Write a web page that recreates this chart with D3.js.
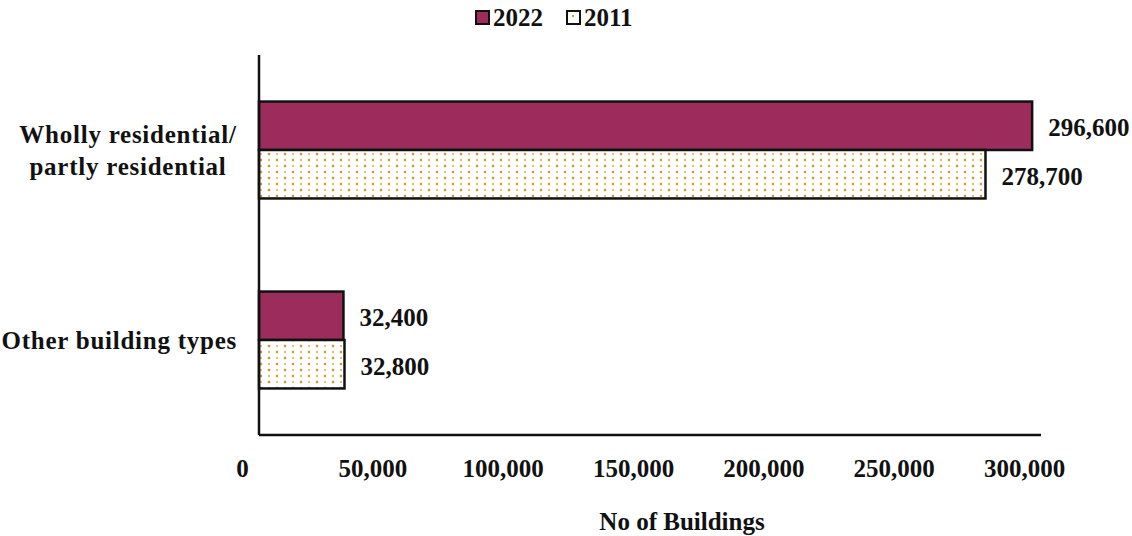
<!DOCTYPE html>
<html>
<head>
<meta charset="utf-8">
<script src="https://cdn.jsdelivr.net/npm/d3@7"></script>
<style>
html,body{margin:0;padding:0;background:#fff;}
svg{display:block;}
text{font-family:"Liberation Serif","Times New Roman",serif;font-weight:bold;fill:#111;}
</style>
</head>
<body>
<svg id="chart" width="1132" height="536"></svg>
<script>
const categories = [["Wholly residential/", "partly residential"], ["Other building types"]];
const categoryKeys = ["Wholly residential/ partly residential", "Other building types"];
const seriesNames = ["2022", "2011"];
const values2022 = [296600, 32400];
const values2011 = [278700, 32800];
const tickValues = [0, 50000, 100000, 150000, 200000, 250000, 300000];
const axisTitle = "No of Buildings";

const svg = d3.select("#chart");
const colors = {"2022": "#9C2C5B"};
const fontSize = 25;

// pattern for 2011
const defs = svg.append("defs");
const pat = defs.append("pattern").attr("id","dots").attr("patternUnits","userSpaceOnUse")
  .attr("width",16).attr("height",12).attr("x",3).attr("y",2);
pat.append("rect").attr("width",16).attr("height",12).attr("fill","#fff");
[[2,2,1.2],[10,2,0.8],[2,8,0.8],[10,8,1.2]].forEach(d=>{
  pat.append("rect").attr("x",d[0]-d[2]).attr("y",d[1]-d[2]).attr("width",d[2]*2).attr("height",d[2]*2).attr("fill","#C9A12A");
});

const x = d3.scaleLinear().domain([0, 300000]).range([259, 1041]);
const y = d3.scaleBand().domain(categoryKeys).range([55, 435]).paddingInner(0.49).paddingOuter(0.245);
const ys = d3.scaleBand().domain(seriesNames).range([0, y.bandwidth()]);

const data = [];
categoryKeys.forEach((c,i)=>{
  data.push({cat:c, s:"2022", v:values2022[i]});
  data.push({cat:c, s:"2011", v:values2011[i]});
});

const g = svg.append("g");
g.selectAll("rect.bar").data(data).join("rect").attr("class","bar")
  .attr("x", x(0))
  .attr("y", d=>y(d.cat)+ys(d.s))
  .attr("width", d=>x(d.v)-x(0))
  .attr("height", ys.bandwidth())
  .attr("fill", d=>d.s==="2022"?colors["2022"]:"url(#dots)")
  .attr("stroke","#111").attr("stroke-width",2.5);

g.selectAll("text.val").data(data).join("text").attr("class","val")
  .attr("x", d=>x(d.v)+16)
  .attr("y", d=>y(d.cat)+ys(d.s)+ys.bandwidth()/2+2)
  .attr("dominant-baseline","central")
  .style("font-size", fontSize+"px")
  .text(d=>d3.format(",")(d.v));

// axes lines
svg.append("line").attr("x1",x(0)).attr("x2",x(0)).attr("y1",55).attr("y2",435).attr("stroke","#111").attr("stroke-width",2.5);
svg.append("line").attr("x1",x(0)).attr("x2",x(300000)).attr("y1",435).attr("y2",435).attr("stroke","#111").attr("stroke-width",2.5);

// x tick labels
const xa = svg.append("g").attr("transform","translate(-17,468)")
  .call(d3.axisBottom(x).tickValues(tickValues).tickSize(0).tickPadding(0).tickFormat(d3.format(",")));
xa.select(".domain").remove();
xa.selectAll("text").attr("y",0).attr("dy",null).attr("dominant-baseline","central")
  .style("font-size",fontSize+"px").style("font-family",null).attr("fill","#111");
xa.attr("font-family",null).attr("font-size",null);

// category labels
categoryKeys.forEach((c,i)=>{
  const lines = categories[i];
  const cy = y(c)+y.bandwidth()/2;
  const t = svg.append("text").attr("text-anchor","middle").style("font-size",fontSize+"px")
    .style("letter-spacing","0.75px").attr("x",128);
  lines.forEach((l,j)=>{
    t.append("tspan").attr("x",128).attr("y", cy + (j-(lines.length-1)/2)*32).attr("dominant-baseline","central").text(l);
  });
  const w = t.node().getBBox().width;
  const cx = Math.min(128, 237 - w/2);
  t.attr("x", cx); t.selectAll("tspan").attr("x", cx);
});

// axis title
svg.append("text").attr("x",682).attr("y",521).attr("text-anchor","middle").attr("dominant-baseline","central")
  .style("font-size",fontSize+"px").text(axisTitle);

// legend
const leg = svg.append("g");
const legX = [476, 567];
seriesNames.forEach((s,i)=>{
  leg.append("rect").attr("x",legX[i]).attr("y",11).attr("width",13).attr("height",13)
    .attr("fill", s==="2022"?colors["2022"]:"#fff").attr("stroke","#111").attr("stroke-width",2);
  if (s==="2011") leg.append("rect").attr("x",legX[i]+5).attr("y",15).attr("width",2).attr("height",2).attr("fill","#C9A12A");
  leg.append("text").attr("x",legX[i]+17).attr("y",17).attr("dominant-baseline","central").style("font-size",fontSize+"px").text(s);
});
</script>
</body>
</html>
